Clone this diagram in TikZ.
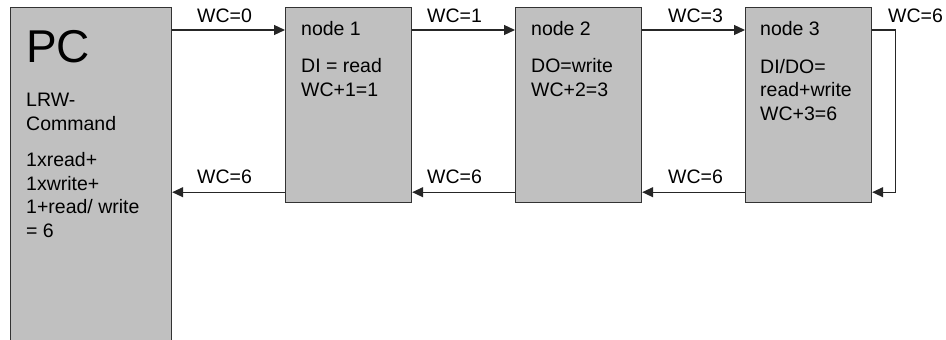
\documentclass[tikz,border=0pt]{standalone}
\usepackage{fontspec}
\setmainfont{Liberation Sans}
\usetikzlibrary{arrows.meta,calc}
\begin{document}
\begin{tikzpicture}[x=1pt,y=-1pt,
  station/.style={draw=black!80,line width=1.2pt,
    anchor=north west,inner sep=0pt,minimum width=126pt,minimum height=195pt},
  txt/.style={anchor=base west,inner sep=0pt,align=left,
    font=\fontsize{19.5}{23.5}\selectfont},
  lbl/.style={anchor=base west,inner sep=0pt,font=\fontsize{19.5}{23.5}\selectfont},
  arr/.style={line width=1.2pt,draw=black!85,-{Triangle[length=11pt,width=10pt]}}]
\definecolor{boxgray}{HTML}{C0C0C0}
\useasboundingbox (0,0) rectangle (946,340);
% master and slave boxes
\node[station,fill=boxgray,minimum width=161pt,minimum height=333pt] (pc) at (10,7) {};
\node[station,fill=boxgray] (n1) at (285,7) {};
\node[station,fill=boxgray] (n2) at (515,7) {};
\node[station,fill=boxgray] (n3) at (745,7) {};
% box texts (a multi-line node sits on the baseline of its last line)
\node[anchor=base west,inner sep=0pt,font=\fontsize{46}{46}\selectfont] (pct) at (26,62) {PC};
\node[txt] (pca) at (26,130) {LRW-\\Command};
\node[txt] (pcb) at (26,237) {1xread+\\1xwrite+\\1+read/ write\\= 6};
\node[txt] (n1a) at (301,35) {node 1};
\node[txt] (n1b) at (301,96) {DI = read\\WC+1=1};
\node[txt] (n2a) at (531,35) {node 2};
\node[txt] (n2b) at (531,96) {DO=write\\WC+2=3};
\node[txt] (n3a) at (760,35) {node 3};
\node[txt] (n3b) at (760,120) {DI/DO=\\read+write\\WC+3=6};
% forward path
\coordinate (f0) at ([yshift=-23pt]pc.north east);
\coordinate (f1) at ([yshift=-23pt]n1.north east);
\coordinate (f2) at ([yshift=-23pt]n2.north east);
\coordinate (f3) at ([yshift=-23pt]n3.north east);
\draw[arr] (f0) -- (f0 -| n1.west);
\draw[arr] (f1) -- (f1 -| n2.west);
\draw[arr] (f2) -- (f2 -| n3.west);
% return path
\coordinate (r3) at ([yshift=11pt]n3.south east);
\coordinate (r2) at ([yshift=11pt]n2.south east);
\coordinate (r1) at ([yshift=11pt]n1.south east);
\draw[arr] (f3) -- ++(23,0) |- (r3);
\draw[arr] (r3 -| n3.west) -- (r2);
\draw[arr] (r2 -| n2.west) -- (r1);
\draw[arr] (r1 -| n1.west) -- (r1 -| pc.east);
% working counter labels
\node[lbl] (l0) at (197,23) {WC=0};
\node[lbl] (l1) at (427,23) {WC=1};
\node[lbl] (l2) at (668,23) {WC=3};
\node[lbl] (l3) at (888,23) {WC=6};
\node[lbl] (b0) at (197,183) {WC=6};
\node[lbl] (b1) at (427,183) {WC=6};
\node[lbl] (b2) at (668,183) {WC=6};
\end{tikzpicture}
\end{document}
